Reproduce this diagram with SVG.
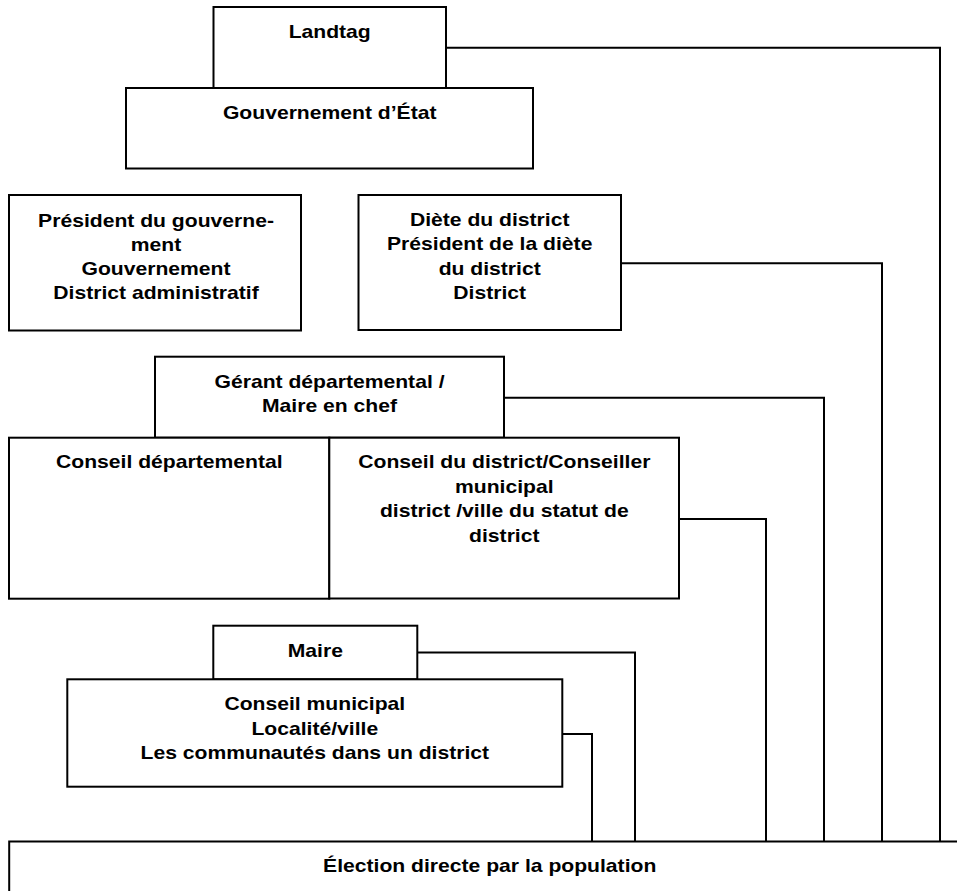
<svg xmlns="http://www.w3.org/2000/svg" width="957" height="891" viewBox="0 0 957 891">
<style>
.box{fill:#fff;stroke:#000;stroke-width:2}
.lbl{font-family:"Liberation Sans",Arial,sans-serif;font-weight:bold;font-size:18.7px;text-anchor:middle;fill:#000}
.conn{fill:none;stroke:#000;stroke-width:2}
</style>
<rect width="957" height="891" fill="#fff"/>
<g id="connectors">
<path class="conn" d="M446 47.7H940V841"/>
<path class="conn" d="M621 263.3H882V841"/>
<path class="conn" d="M504 397.7H824V841"/>
<path class="conn" d="M679 519H766V841"/>
<path class="conn" d="M417 652.5H635V841"/>
<path class="conn" d="M562.3 734H592V841"/>
</g>
<g id="landtag">
<rect class="box" x="213.5" y="7" width="232.5" height="81"/>
<text class="lbl" transform="matrix(1.13 0 0 1 329.7 0)"><tspan x="0" y="38">Landtag</tspan></text>
</g>
<g id="gouvernement-etat">
<rect class="box" x="126" y="88" width="407" height="80.5"/>
<text class="lbl" transform="matrix(1.13 0 0 1 329.7 0)"><tspan x="0" y="119.3">Gouvernement d’État</tspan></text>
</g>
<g id="president-gouvernement">
<rect class="box" x="9" y="195" width="292" height="135.5"/>
<text class="lbl" transform="matrix(1.13 0 0 1 156 0)"><tspan x="0" y="226.7">Président du gouverne-</tspan><tspan x="0" y="250.8">ment</tspan><tspan x="0" y="275">Gouvernement</tspan><tspan x="0" y="299.3">District administratif</tspan></text>
</g>
<g id="diete-district">
<rect class="box" x="358.5" y="195" width="262.5" height="135"/>
<text class="lbl" transform="matrix(1.13 0 0 1 489.7 0)"><tspan x="0" y="226">Diète du district</tspan><tspan x="0" y="250.3">Président de la diète</tspan><tspan x="0" y="274.6">du district</tspan><tspan x="0" y="299">District</tspan></text>
</g>
<g id="gerant">
<rect class="box" x="155" y="356.7" width="349" height="81"/>
<text class="lbl" transform="matrix(1.13 0 0 1 329.5 0)"><tspan x="0" y="388.3">Gérant départemental /</tspan><tspan x="0" y="411.7">Maire en chef</tspan></text>
</g>
<g id="conseil-departemental">
<rect class="box" x="9" y="437.7" width="320.3" height="161"/>
<text class="lbl" transform="matrix(1.13 0 0 1 169.3 0)"><tspan x="0" y="468.3">Conseil départemental</tspan></text>
</g>
<g id="conseil-district">
<rect class="box" x="329.3" y="437.7" width="349.7" height="160.8"/>
<text class="lbl" transform="matrix(1.13 0 0 1 504.3 0)"><tspan x="0" y="467.8">Conseil du district/Conseiller</tspan><tspan x="0" y="492.8">municipal</tspan><tspan x="0" y="517.3">district /ville du statut de</tspan><tspan x="0" y="541.7">district</tspan></text>
</g>
<g id="maire">
<rect class="box" x="213.3" y="625.7" width="204" height="53.6"/>
<text class="lbl" transform="matrix(1.13 0 0 1 315.3 0)"><tspan x="0" y="656.6">Maire</tspan></text>
</g>
<g id="conseil-municipal">
<rect class="box" x="67.3" y="679.3" width="495" height="107.4"/>
<text class="lbl" transform="matrix(1.13 0 0 1 314.8 0)"><tspan x="0" y="710">Conseil municipal</tspan><tspan x="0" y="735">Localité/ville</tspan><tspan x="0" y="759.4">Les communautés dans un district</tspan></text>
</g>
<g id="election">
<rect class="box" x="9.2" y="841.5" width="962" height="70"/>
<text class="lbl" transform="matrix(1.13 0 0 1 489.7 0)"><tspan x="0" y="871.6">Élection directe par la population</tspan></text>
</g>
</svg>
